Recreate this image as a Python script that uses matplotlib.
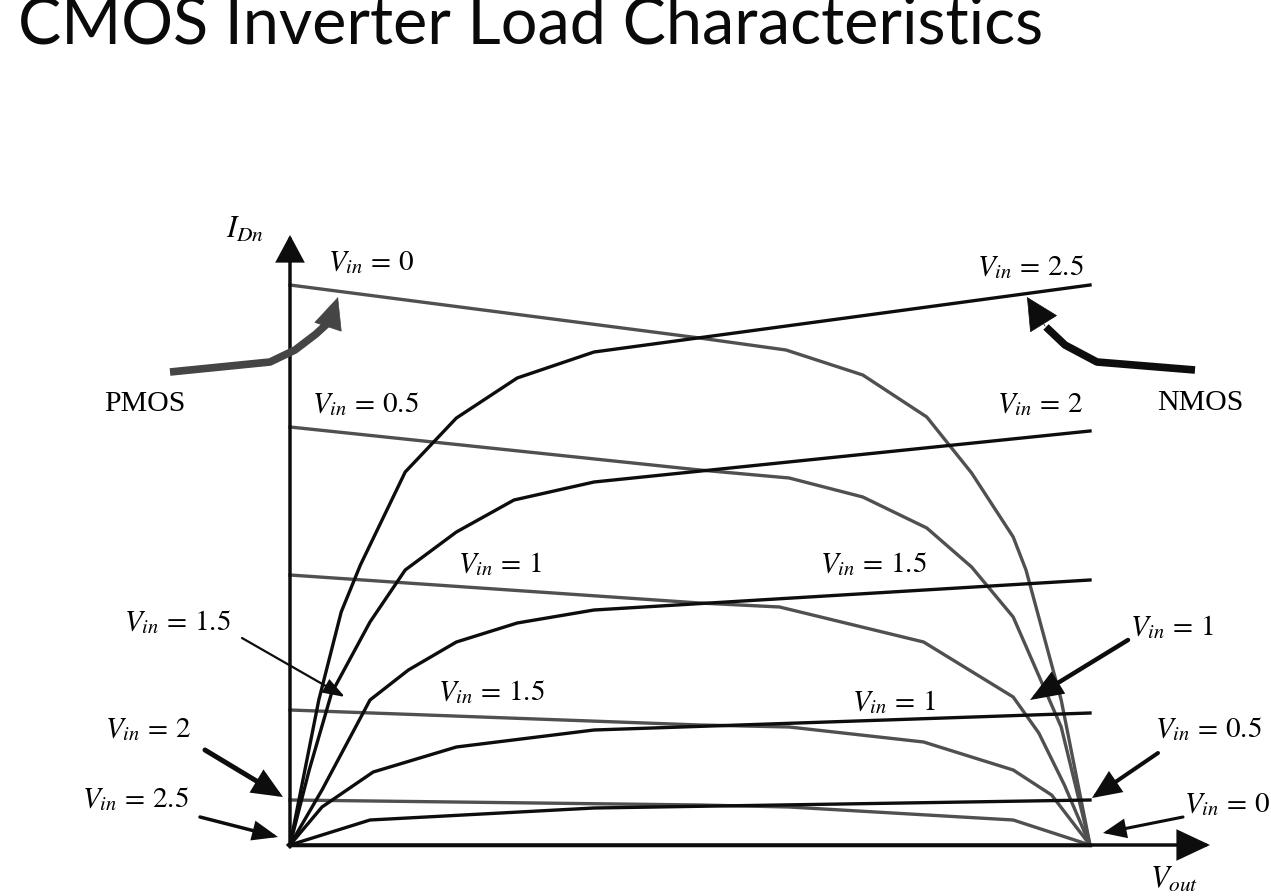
import matplotlib
matplotlib.use("Agg")
import matplotlib.pyplot as plt

# ---------------- data (Vout in V, I_Dn in arbitrary units) ----------------
nmos_vin_labels = [2.5, 2.0, 1.5, 1.0, 0.5, 0.0]
nmos_v_25 = [0, 0.09, 0.16, 0.22, 0.36, 0.52, 0.71, 0.95, 2.5]
nmos_i_25 = [0, 1.45, 2.33, 2.80, 3.73, 4.27, 4.67, 4.93, 5.60]
nmos_v_20 = [0, 0.06, 0.13, 0.25, 0.36, 0.52, 0.70, 0.95, 2.5]
nmos_i_20 = [0, 0.75, 1.52, 2.23, 2.75, 3.13, 3.45, 3.63, 4.14]
nmos_v_15 = [0, 0.10, 0.25, 0.37, 0.52, 0.71, 0.95, 2.5]
nmos_i_15 = [0, 0.55, 1.45, 1.75, 2.03, 2.22, 2.35, 2.65]
nmos_v_10 = [0, 0.10, 0.26, 0.52, 0.95, 2.5]
nmos_i_10 = [0, 0.38, 0.73, 0.98, 1.15, 1.32]
nmos_v_05 = [0, 0.25, 0.95, 2.5]
nmos_i_05 = [0, 0.25, 0.37, 0.45]
nmos_v_00 = [0, 2.5]
nmos_i_00 = [0, 0]

pmos_v_00 = [0, 1.28, 1.55, 1.79, 1.99, 2.13, 2.26, 2.30, 2.41, 2.5]
pmos_i_00 = [5.60, 5.07, 4.95, 4.70, 4.28, 3.72, 3.08, 2.75, 1.45, 0]
pmos_v_05 = [0, 1.28, 1.56, 1.79, 1.99, 2.13, 2.26, 2.41, 2.5]
pmos_i_05 = [4.18, 3.75, 3.67, 3.48, 3.17, 2.78, 2.28, 1.18, 0]
pmos_v_10 = [0, 1.28, 1.53, 1.98, 2.26, 2.34, 2.42, 2.5]
pmos_i_10 = [2.70, 2.42, 2.38, 2.03, 1.48, 1.12, 0.60, 0]
pmos_v_15 = [0, 1.28, 1.56, 1.98, 2.26, 2.38, 2.5]
pmos_i_15 = [1.35, 1.20, 1.18, 1.03, 0.75, 0.50, 0]
pmos_v_20 = [0, 1.28, 1.56, 2.26, 2.5]
pmos_i_20 = [0.45, 0.40, 0.38, 0.25, 0]
pmos_v_25 = [0, 2.5]
pmos_i_25 = [0, 0]

title = "CMOS Inverter Load Characteristics"

# ---------------- layout ----------------
W, H = 1271, 896
X0_PX, X1_PX, Y0_PX = 290, 1090, 845
PX_PER_V = (X1_PX - X0_PX) / 2.5
PX_PER_I = 100.0


def P(px, py):
    """reference-pixel position -> data coordinates (for annotations)"""
    return ((px - X0_PX) / PX_PER_V, (Y0_PX - py) / PX_PER_I)


plt.rcParams["mathtext.fontset"] = "stix"
plt.rcParams["font.family"] = ["Liberation Serif", "DejaVu Serif"]

fig = plt.figure(figsize=(W / 100, H / 100), dpi=100)
ax = fig.add_axes([0, 0, 1, 1])
xl0, _ = P(0, 0)
xl1, _ = P(W, 0)
_, yb = P(0, H)
_, yt = P(0, 0)
ax.set_xlim(xl0, xl1)
ax.set_ylim(yb, yt)
ax.axis("off")

BLACK = "#0d0d0d"
GRAY = "#505050"
LW = 2.4

nmos = [(nmos_v_25, nmos_i_25), (nmos_v_20, nmos_i_20), (nmos_v_15, nmos_i_15),
        (nmos_v_10, nmos_i_10), (nmos_v_05, nmos_i_05), (nmos_v_00, nmos_i_00)]
pmos = [(pmos_v_00, pmos_i_00), (pmos_v_05, pmos_i_05), (pmos_v_10, pmos_i_10),
        (pmos_v_15, pmos_i_15), (pmos_v_20, pmos_i_20), (pmos_v_25, pmos_i_25)]
for v, i in pmos:
    ax.plot(v, i, color=GRAY, lw=LW, solid_joinstyle="round", zorder=2)
for v, i in nmos:
    ax.plot(v, i, color=BLACK, lw=LW, solid_joinstyle="round", zorder=3)


def arrow(tail, tip, lw, hl, hw, color=BLACK, z=5):
    ax.annotate("", xy=P(*tip), xytext=P(*tail),
                arrowprops=dict(arrowstyle=f"-|>,head_length={hl},head_width={hw}",
                                lw=lw, color=color, shrinkA=0, shrinkB=0,
                                mutation_scale=1, joinstyle="miter"),
                zorder=z)


# axes with arrows
arrow((290, 847), (290, 235), 2.5, 16, 8.6)
arrow((288, 845), (1210, 845), 2.5, 20, 9.4)

# axis labels
ax.text(*P(226, 238), r"$I_{Dn}$", fontsize=22, ha="left", va="baseline")
ax.text(*P(1150, 888), r"$V_{out}$", fontsize=22, ha="left", va="baseline")

# curve labels
labels = [
    (328, 270, r"$V_{in}\,=\,0$"),
    (312, 412, r"$V_{in}\,=\,0.5$"),
    (458, 572, r"$V_{in}\,=\,1$"),
    (438, 700, r"$V_{in}\,=\,1.5$"),
    (977, 275, r"$V_{in}\,=\,2.5$"),
    (997, 412, r"$V_{in}\,=\,2$"),
    (820, 572, r"$V_{in}\,=\,1.5$"),
    (852, 710, r"$V_{in}\,=\,1$"),
    (124, 630, r"$V_{in}\,=\,1.5$"),
    (105, 737, r"$V_{in}\,=\,2$"),
    (82, 807, r"$V_{in}\,=\,2.5$"),
    (1130, 635, r"$V_{in}\,=\,1$"),
    (1155, 737, r"$V_{in}\,=\,0.5$"),
    (1184, 812, r"$V_{in}\,=\,0$"),
]
for px, py, s in labels:
    ax.text(*P(px, py), s, fontsize=21, ha="left", va="baseline", zorder=6)

# pointer arrows
arrow((242, 638), (345, 697), 1.6, 13, 4.5)
arrow((205, 750), (283, 797), 3.6, 16, 7)
arrow((200, 817), (278, 837), 2.5, 14, 5.5)
arrow((1128, 640), (1030, 700), 3.2, 18, 7)
arrow((1158, 753), (1092, 798), 2.9, 16, 7)
arrow((1183, 817), (1103, 833), 2.2, 13, 5.5)

# PMOS / NMOS labels with curved thick arrows
ax.text(*P(104, 411), "PMOS", fontsize=21.5, ha="left", va="baseline")
ax.text(*P(1157, 410), "NMOS", fontsize=21.5, ha="left", va="baseline")

pm_shaft = [P(170, 372), P(270, 362), P(295, 350), P(316, 334), P(329, 322)]
ax.plot([p[0] for p in pm_shaft], [p[1] for p in pm_shaft], color="#454545", lw=5.5,
        solid_joinstyle="round", solid_capstyle="butt", zorder=5)
arrow((329, 324), (338, 297), 0.5, 22, 10, color="#454545")

nm_shaft = [P(1195, 370), P(1097, 362), P(1065, 345), P(1046, 327)]
ax.plot([p[0] for p in nm_shaft], [p[1] for p in nm_shaft], color=BLACK, lw=5.5,
        solid_joinstyle="round", solid_capstyle="butt", zorder=5)
arrow((1045, 326), (1027, 297), 0.5, 22, 11)

# title, fitted to the reference width (its top is clipped in the reference too)
t = fig.text(18 / W, 1 - 44 / H, title, fontsize=48, family=["Lato", "DejaVu Sans"],
             ha="left", va="baseline", color="#0a0a0a")
fig.canvas.draw()
bb = t.get_window_extent()
t.set_fontsize(48 * 1025 / bb.width)

fig.savefig("out.png", dpi=100, facecolor="white")
